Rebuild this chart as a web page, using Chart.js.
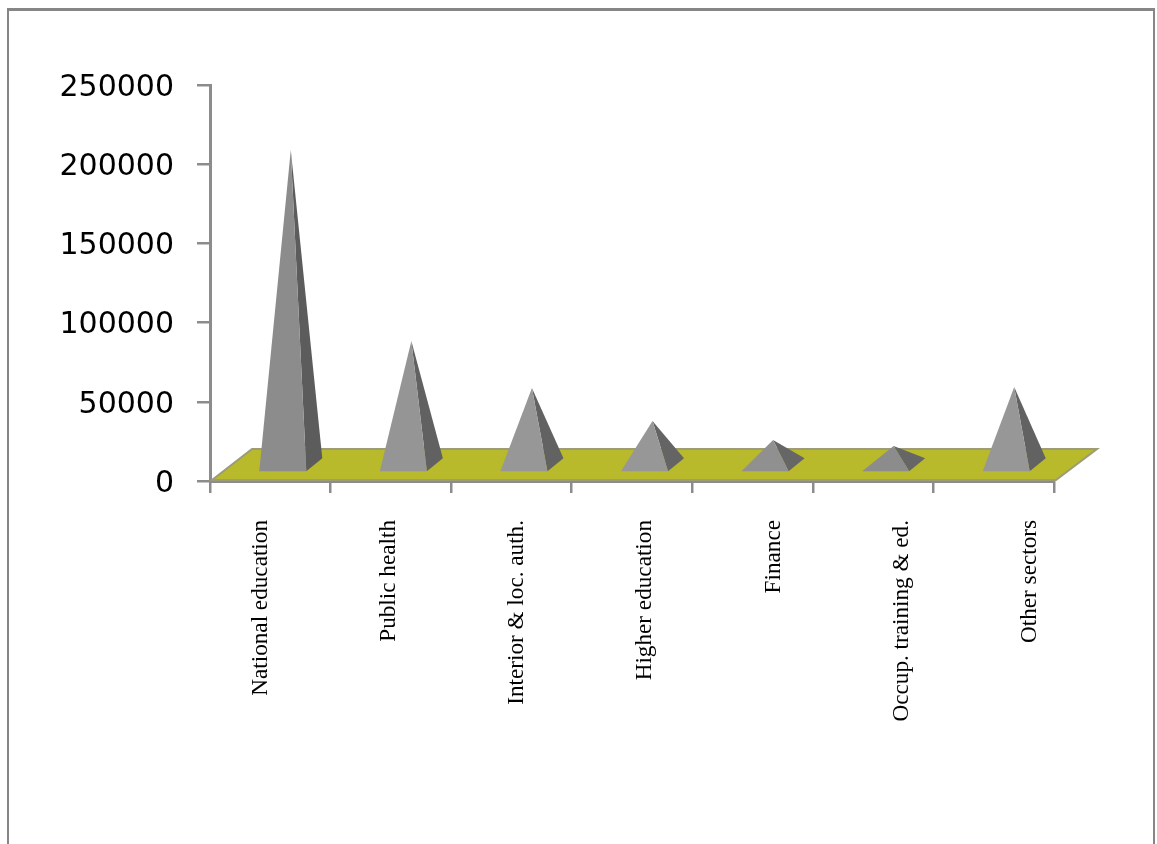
<!DOCTYPE html>
<html>
<head>
<meta charset="utf-8">
<script src="https://cdn.jsdelivr.net/npm/chart.js@4"></script>
<style>
  html, body { margin: 0; padding: 0; background: #fff; overflow: hidden; }
  #wrap { position: relative; width: 1157px; height: 844px; }
  #frame { position: absolute; left: 7px; top: 8px; width: 1148px; height: 860px; border: 2px solid #868686; border-top-width: 3px; box-sizing: border-box; }
  canvas { position: absolute; left: 0; top: 0; }
</style>
</head>
<body>
<div id="wrap">
  <div id="frame"></div>
  <canvas id="myChart" width="1157" height="844"></canvas>
</div>
<script>
const categories = ['National education', 'Public health', 'Interior & loc. auth.', 'Higher education', 'Finance', 'Occup. training & ed.', 'Other sectors'];
const values = [198500, 78000, 48300, 27500, 15500, 11700, 48900];
const faceColors = ['#8c8c8c', '#959595', '#979797', '#979797', '#909090', '#8c8c8c', '#979797'];
const sideColors = ['#5c5c5c', '#616161', '#626262', '#646464', '#666666', '#666666', '#626262'];

// floor and pyramids are drawn from the bar elements, so they follow the scales
const depthX = 42, depthY = 31;
const baseDepthX = 16, baseDepthY = 13, baseLift = 8.5, apexLift = 16.5, shiftX = 12.5;

const pyramids = {
  id: 'pyramids',
  beforeDatasetsDraw(chart) {
    const { ctx, scales: { x, y } } = chart;
    const y0 = y.getPixelForValue(0) - 1;
    ctx.save();
    ctx.beginPath();
    ctx.moveTo(x.left + 2, y0);
    ctx.lineTo(x.left + depthX, y0 - depthY);
    ctx.lineTo(x.right + depthX + 1, y0 - depthY);
    ctx.lineTo(x.right + 2, y0);
    ctx.closePath();
    ctx.fillStyle = '#b9b92c';
    ctx.fill();
    ctx.strokeStyle = '#9c9c78';
    ctx.lineWidth = 2;
    ctx.stroke();
    ctx.restore();
  },
  afterDatasetsDraw(chart) {
    const { ctx } = chart;
    const meta = chart.getDatasetMeta(0);
    ctx.save();
    meta.data.forEach((bar, i) => {
      const left = bar.x + shiftX - bar.width / 2;
      const right = bar.x + shiftX + bar.width / 2;
      const bottom = bar.base - baseLift;
      const apexX = bar.x + shiftX + baseDepthX / 2;
      const apexY = bar.y - apexLift;
      ctx.beginPath();
      ctx.moveTo(right, bottom);
      ctx.lineTo(right + baseDepthX, bottom - baseDepthY);
      ctx.lineTo(apexX, apexY);
      ctx.closePath();
      ctx.fillStyle = sideColors[i];
      ctx.fill();
      ctx.beginPath();
      ctx.moveTo(left, bottom);
      ctx.lineTo(right, bottom);
      ctx.lineTo(apexX, apexY);
      ctx.closePath();
      ctx.fillStyle = faceColors[i];
      ctx.fill();
    });
    ctx.restore();
  },
  // category labels drift right of their ticks in the original
  afterDraw(chart) {
    const { ctx, scales: { x } } = chart;
    ctx.save();
    ctx.font = '23.2px "Liberation Serif"';
    ctx.fillStyle = '#000';
    ctx.textAlign = 'right';
    ctx.textBaseline = 'middle';
    categories.forEach((label, i) => {
      ctx.save();
      ctx.translate(x.getPixelForTick(i) - 9.5 + i * 7.6, x.top + 39);
      ctx.rotate(-Math.PI / 2);
      ctx.fillText(label, 0, 0);
      ctx.restore();
    });
    ctx.restore();
  }
};

new Chart(document.getElementById('myChart'), {
  type: 'bar',
  data: {
    labels: categories,
    datasets: [{
      data: values,
      backgroundColor: 'transparent',
      barPercentage: 1,
      categoryPercentage: 0.39
    }]
  },
  options: {
    responsive: false,
    animation: false,
    layout: { padding: { left: 0, right: 103, top: 85, bottom: 0 } },
    plugins: { legend: { display: false }, tooltip: { enabled: false } },
    scales: {
      x: {
        afterFit(scale) { scale.height = 363; },
        border: { color: '#8c8c8c', width: 3 },
        grid: { color: '#8c8c8c', lineWidth: 2.5, drawOnChartArea: false, tickLength: 12 },
        ticks: { display: false }
      },
      y: {
        min: 0,
        max: 250000,
        afterFit(scale) { scale.width = 210; },
        border: { color: '#8c8c8c', width: 3 },
        grid: { color: '#8c8c8c', lineWidth: 2.5, drawOnChartArea: false, tickLength: 13 },
        ticks: {
          stepSize: 50000,
          padding: 23,
          color: '#000',
          // empty first line plus small lineHeight nudges labels about 3px down
          font: { family: '"DejaVu Sans"', size: 30, lineHeight: 0.2 },
          callback: value => ['', String(value)]
        }
      }
    }
  },
  plugins: [pyramids]
});
</script>
</body>
</html>
